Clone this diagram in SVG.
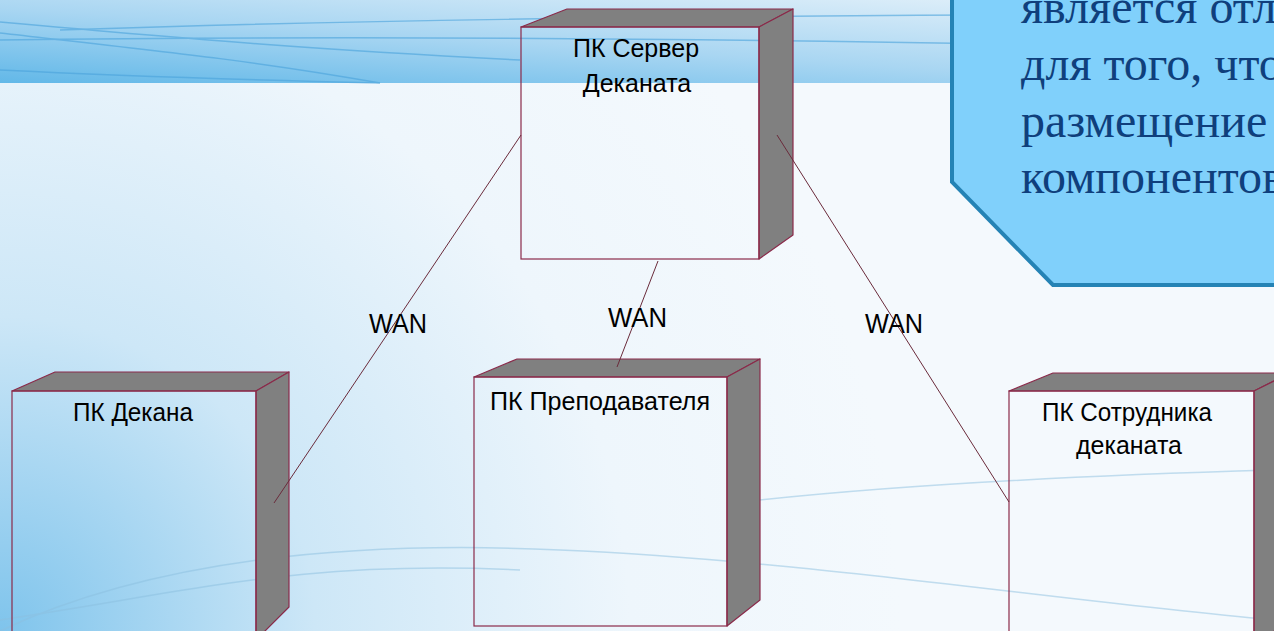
<svg xmlns="http://www.w3.org/2000/svg" width="1274" height="631" viewBox="0 0 1274 631">
  <defs>
    <linearGradient id="banner" x1="0" y1="1" x2="1" y2="0">
      <stop offset="0" stop-color="#62b8e8"/>
      <stop offset="0.45" stop-color="#a9d6f2"/>
      <stop offset="1" stop-color="#eaf4fb"/>
    </linearGradient>
    <radialGradient id="bg" cx="0" cy="631" r="900" gradientUnits="userSpaceOnUse">
      <stop offset="0" stop-color="#7fc4ec"/>
      <stop offset="0.35" stop-color="#cde7f7"/>
      <stop offset="0.7" stop-color="#eef6fc"/>
      <stop offset="1" stop-color="#f4f9fd"/>
    </radialGradient>
    <style>
      .front { fill: none; stroke: #8a2a4a; stroke-width: 1.2; }
      .face { fill: #808080; stroke: #8a2a4a; stroke-width: 1.2; stroke-linejoin: round; }
      .lbl { font-family: "Liberation Sans", Arial, sans-serif; font-size: 25px; fill: #000; }
      .wan { font-family: "Liberation Sans", Arial, sans-serif; font-size: 27px; fill: #000; }
      .conn { stroke: #6a2b3b; stroke-width: 1; fill: none; }
      .deco { fill: none; stroke-width: 1.5; }
      .note { font-family: "Liberation Serif", "Times New Roman", serif; font-size: 48px; fill: #0f3f7c; }
    </style>
  </defs>

  <!-- background -->
  <rect x="0" y="0" width="1274" height="631" fill="url(#bg)"/>
  <rect x="0" y="0" width="1274" height="83" fill="url(#banner)"/>
  <g class="deco" stroke="#4aa3dc" opacity="0.6">
    <path d="M0 22 C 200 40, 320 50, 520 60"/>
    <path d="M0 33 C 150 50, 250 60, 380 83"/>
    <path d="M0 40 C 300 36, 700 36, 1274 50"/>
    <path d="M0 70 C 120 76, 250 80, 380 83"/>
    <path d="M60 30 C 300 22, 600 15, 1274 14"/>
  </g>
  <g class="deco" stroke="#8cc0e0" opacity="0.5">
    <path d="M0 631 C 150 560, 350 540, 560 550 C 800 560, 1050 600, 1274 620"/>
    <path d="M0 620 C 200 590, 300 560, 520 570"/>
    <path d="M760 500 C 900 485, 1100 475, 1274 470"/>
  </g>

  <!-- callout -->
  <g id="callout">
    <polygon points="952,-5 952,182 1053,285 1280,285 1280,-5" fill="#80d0fb" stroke="#2583b5" stroke-width="4"/>
    <text class="note" x="1021" y="23">является отл</text>
    <text class="note" x="1021" y="80">для того, что</text>
    <text class="note" x="1021" y="137">размещение</text>
    <text class="note" x="1021" y="193">компонентов</text>
  </g>

  <!-- server -->
  <g id="server">
    <polygon class="face" points="521,27 567,9 793,9 759,27"/>
    <polygon class="face" points="759,27 793,9 793,235 759,259"/>
    <rect class="front" x="521" y="27" width="238" height="232"/>
    <text class="lbl" x="636" y="57" text-anchor="middle">ПК Сервер</text>
    <text class="lbl" x="637" y="92" text-anchor="middle">Деканата</text>
  </g>

  <!-- dean -->
  <g id="dean">
    <polygon class="face" points="12,391 55,372 289,372 256,391"/>
    <polygon class="face" points="256,391 289,372 289,607 256,640"/>
    <rect class="front" x="12" y="391" width="244" height="260"/>
    <text class="lbl" x="73" y="421" textLength="120" lengthAdjust="spacingAndGlyphs">ПК Декана</text>
  </g>

  <!-- teacher -->
  <g id="teacher">
    <polygon class="face" points="474,377 517,359 760,359 727,377"/>
    <polygon class="face" points="727,377 760,359 760,600 727,626"/>
    <rect class="front" x="474" y="377" width="253" height="249"/>
    <text class="lbl" x="490" y="410" textLength="220" lengthAdjust="spacingAndGlyphs">ПК Преподавателя</text>
  </g>

  <!-- staff -->
  <g id="staff">
    <polygon class="face" points="1009,391 1053,373 1290,373 1254,391"/>
    <polygon class="face" points="1254,391 1290,373 1290,620 1254,645"/>
    <rect class="front" x="1009" y="391" width="245" height="260"/>
    <text class="lbl" x="1042" y="421" textLength="170" lengthAdjust="spacingAndGlyphs">ПК Сотрудника</text>
    <text class="lbl" x="1076" y="454" textLength="106" lengthAdjust="spacingAndGlyphs">деканата</text>
  </g>

  <!-- connectors -->
  <g id="connectors">
    <line class="conn" x1="521" y1="135" x2="274" y2="503"/>
    <line class="conn" x1="658" y1="261" x2="617" y2="367"/>
    <line class="conn" x1="777" y1="135" x2="1009" y2="502"/>
    <text class="wan" x="369" y="333" textLength="58" lengthAdjust="spacingAndGlyphs">WAN</text>
    <text class="wan" x="608" y="327" textLength="59" lengthAdjust="spacingAndGlyphs">WAN</text>
    <text class="wan" x="865" y="333" textLength="58" lengthAdjust="spacingAndGlyphs">WAN</text>
  </g>
</svg>
